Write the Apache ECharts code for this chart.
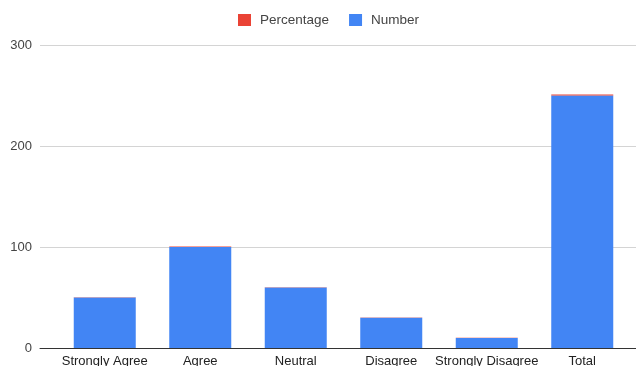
<!DOCTYPE html>
<html>
<head>
<meta charset="utf-8">
<script src="https://cdn.jsdelivr.net/npm/echarts@6/dist/echarts.min.js"></script>
<style>
  html, body { margin: 0; padding: 0; background: #fff; }
  #chart { width: 636px; height: 366px; }
</style>
</head>
<body>
<div id="chart"></div>
<script>
const categories = ['Strongly Agree', 'Agree', 'Neutral', 'Disagree', 'Strongly Disagree', 'Total'];
const numberValues = [50, 100, 60, 30, 10, 250];
const percentageValues = [0.2, 0.4, 0.24, 0.12, 0.04, 1];
const yTicks = [0, 100, 200, 300];

const font = 'Arial, "Liberation Sans", sans-serif';
const chart = echarts.init(document.getElementById('chart'));

chart.setOption({
  animation: false,
  legend: {
    top: 13,
    left: 238,
    padding: 0,
    data: ['Percentage', 'Number'],
    itemWidth: 13,
    itemHeight: 12,
    itemGap: 20,
    icon: 'rect',
    textStyle: { color: '#444', fontFamily: font, fontSize: 13.5, padding: [0, 0, 0, 4] }
  },
  grid: [
    // background grid carrying the value gridlines and baseline
    { left: 40, right: 0, top: 45, bottom: 18, outerBoundsMode: 'none', containLabel: false },
    // grid holding the bars
    { left: 57, right: 6, top: 45, bottom: 18, outerBoundsMode: 'none', containLabel: false }
  ],
  xAxis: [
    {
      gridIndex: 0, type: 'value', min: 0, max: 1,
      axisLine: { show: true, lineStyle: { color: '#333', width: 1 } },
      axisTick: { show: false }, axisLabel: { show: false }, splitLine: { show: false }
    },
    {
      gridIndex: 1, type: 'category', data: categories,
      axisLine: { show: false }, axisTick: { show: false },
      axisLabel: { color: '#222', fontFamily: font, fontSize: 13, margin: 7, interval: 0 }
    }
  ],
  yAxis: [
    {
      gridIndex: 0, type: 'value', min: yTicks[0], max: yTicks[yTicks.length - 1], interval: 100,
      axisLine: { show: false }, axisTick: { show: false },
      axisLabel: { color: '#444', fontFamily: font, fontSize: 13, margin: 8 },
      splitLine: { lineStyle: { color: '#d4d4d4', width: 1 } }
    },
    {
      gridIndex: 1, type: 'value', min: yTicks[0], max: yTicks[yTicks.length - 1], interval: 100,
      show: false, splitLine: { show: false }
    }
  ],
  series: [
    {
      name: 'Number', type: 'bar', stack: 'total',
      xAxisIndex: 1, yAxisIndex: 1,
      barWidth: 62,
      itemStyle: { color: '#4285f4' },
      data: numberValues
    },
    {
      name: 'Percentage', type: 'bar', stack: 'total',
      xAxisIndex: 1, yAxisIndex: 1,
      barWidth: 62,
      itemStyle: { color: '#ea4335' },
      data: percentageValues
    }
  ]
});
</script>
</body>
</html>
